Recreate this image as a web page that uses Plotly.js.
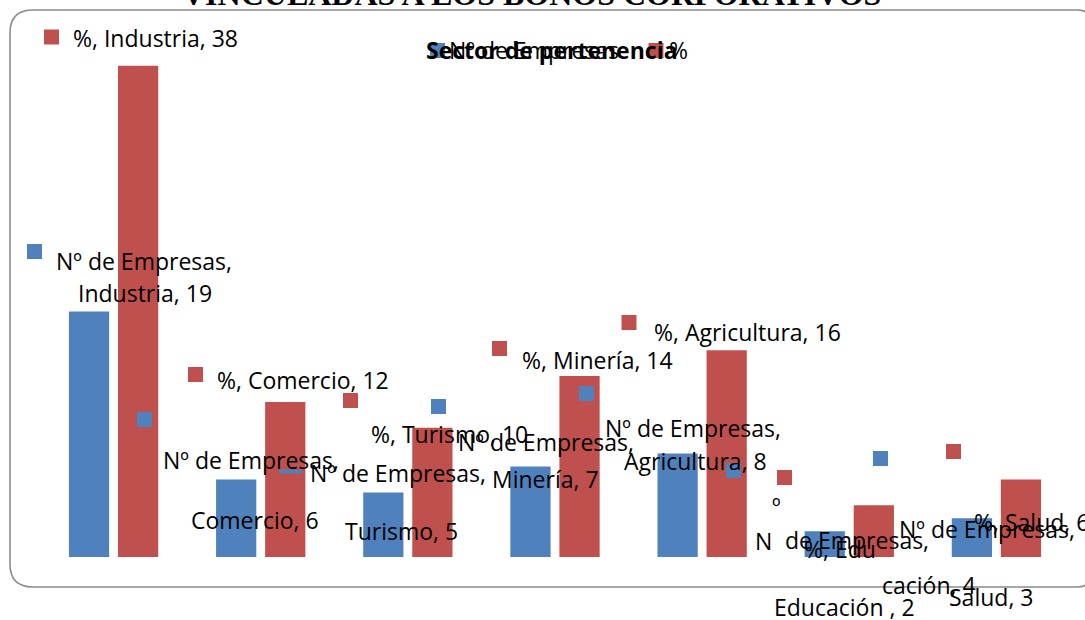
<!DOCTYPE html>
<html><head><meta charset="utf-8">
<script src="https://cdn.plot.ly/plotly-3.0.1.min.js"></script>
<style>html,body{margin:0;padding:0;background:#fff;overflow:hidden}#chart{width:1085px;height:620px}</style>
</head><body><div id="chart"></div>
<script>
// ---- data ----
const categories = ['Industria', 'Comercio', 'Turismo', 'Minería', 'Agricultura', 'Educación', 'Salud'];
const empresas = [19, 6, 5, 7, 8, 2, 3];
const porcentaje = [38, 12, 10, 14, 16, 4, 6];
const seriesNames = ['Nº de Empresas', '%'];
const chartTitle = 'VINCULADAS A LOS BONOS CORPORATIVOS';
const legendTitle = 'Sector de pertenencia';

// ---- layout geometry ----
const W = 1085, H = 620, L = 40, R = 15, T = 40, B = 63;
const pw = W - L - R, ph = H - T - B;
const px = v => (v - L) / pw;
const py = v => (H - B - v) / ph;
const BLUE = '#4F81BD', RED = '#C0504D';
const FONT = 'Open Sans, sans-serif';
const FS = 23;

const traces = [
  {type: 'bar', name: seriesNames[0], x: categories, y: empresas, marker: {color: BLUE}, hoverinfo: 'x+y'},
  {type: 'bar', name: seriesNames[1], x: categories, y: porcentaje, marker: {color: RED}, hoverinfo: 'x+y'}
];

const lblE = i => seriesNames[0] + ',';
const lblEv = i => categories[i] + ', ' + empresas[i];
const lblP = i => seriesNames[1] + ', ' + categories[i] + ', ' + porcentaje[i];

// data-label texts with pixel placement [text, cx, cy, anchor]
const labels = [
  [lblP(0), 155, 38],
  [lblE(0), 143.5, 261], [lblEv(0), 144.5, 293],
  [lblP(1), 302.5, 379.5],
  [lblE(1), 250.5, 459.5], [lblEv(1), 255, 520],
  [lblP(2), 449.5, 434],
  [lblE(2), 397.5, 473], [lblEv(2), 401, 530.5],
  [lblE(3), 546, 441.5], [lblEv(3), 545.5, 478.5],
  [lblP(3), 597.5, 359.5],
  [lblP(4), 747.5, 331.5],
  [lblE(4), 693, 428], [lblEv(4), 695.5, 461],
  ['º', 776.5, 506], ['N', 763, 541], ['de Empresas,', 856.5, 540],
  [seriesNames[1] + ', Edu', 839.5, 548.5], ['cación, ' + porcentaje[5], 929, 585],
  [categories[5] + ' , ' + empresas[5], 844, 607],
  [lblE(6), 986.5, 529],
  [lblP(6), 972, 521.5, 'left'],
  [lblEv(6), 990.5, 597]
];

// legend-key squares next to data labels [color, cx, cy, w, h]
const keys = [
  [RED, 51.5, 37], [BLUE, 34.5, 251.5], [RED, 195.5, 374.5], [BLUE, 144.5, 419.5],
  [RED, 350.5, 400.5], [BLUE, 290.5, 471.5, 23, 4], [BLUE, 438.5, 406.5], [RED, 499.5, 348.5],
  [BLUE, 586.5, 393.5], [RED, 629, 322.5], [BLUE, 733.5, 470.5], [RED, 784.5, 477.5],
  [BLUE, 880.5, 458.5], [RED, 953.5, 451.5]
];

const annotations = labels.map(([t, cx, cy, anc]) => ({
  text: t, xref: 'paper', yref: 'paper', x: px(cx), y: py(cy),
  xanchor: anc || 'center', yanchor: 'middle', showarrow: false,
  font: {family: FONT, size: FS, color: '#000'}
}));

// legend (manual)
annotations.push({text: legendTitle, xref: 'paper', yref: 'paper', x: px(551.5), y: py(50),
  xanchor: 'center', yanchor: 'middle', showarrow: false, font: {family: FONT, size: 23, color: '#000', weight: 'bold'}});
annotations.push({text: seriesNames[0], xref: 'paper', yref: 'paper', x: px(447), y: py(50),
  xanchor: 'left', yanchor: 'middle', showarrow: false, font: {family: FONT, size: FS, color: '#000'}});
annotations.push({text: seriesNames[1], xref: 'paper', yref: 'paper', x: px(667), y: py(50),
  xanchor: 'left', yanchor: 'middle', showarrow: false, font: {family: FONT, size: FS, color: '#000'}});
// title (clipped at top)
annotations.push({text: chartTitle, xref: 'paper', yref: 'paper', x: px(531), y: py(-6),
  xanchor: 'center', yanchor: 'middle', showarrow: false,
  font: {family: 'Liberation Serif, Times New Roman, serif', size: 32, color: '#000', weight: 'bold'}});

const shapes = [];
// rounded border
(function () {
  const x0 = 10, y0 = 10, x1 = 1092, y1 = 587, rl = 23, rr = 15;
  const P = (a, b) => px(a) + ',' + py(b);
  const path = 'M' + P(x0 + rl, y0) + ' L' + P(x1 - rr, y0) + ' Q' + P(x1, y0) + ' ' + P(x1, y0 + rr) +
    ' L' + P(x1, y1 - rr) + ' Q' + P(x1, y1) + ' ' + P(x1 - rr, y1) +
    ' L' + P(x0 + rl, y1) + ' Q' + P(x0, y1) + ' ' + P(x0, y1 - rl) +
    ' L' + P(x0, y0 + rl) + ' Q' + P(x0, y0) + ' ' + P(x0 + rl, y0) + ' Z';
  shapes.push({type: 'path', xref: 'paper', yref: 'paper', path: path, layer: 'below',
    line: {color: '#8c8c8c', width: 1.6}, fillcolor: 'rgba(0,0,0,0)'});
})();
function sq(color, cx, cy, w, h) {
  w = w || 15; h = h || 15;
  shapes.push({type: 'rect', xref: 'paper', yref: 'paper', layer: 'above',
    x0: px(cx - w / 2), x1: px(cx + w / 2), y0: py(cy + h / 2), y1: py(cy - h / 2),
    line: {width: 0}, fillcolor: color});
}
keys.forEach(k => sq(k[0], k[1], k[2], k[3], k[4]));
sq(BLUE, 437.5, 50.5); sq(RED, 656, 50.5);

const layout = {
  width: W, height: H,
  margin: {l: L, r: R, t: T, b: B, pad: 0},
  paper_bgcolor: '#fff', plot_bgcolor: 'rgba(0,0,0,0)',
  barmode: 'group', bargap: 0.333, bargroupgap: 0.18,
  showlegend: false,
  xaxis: {visible: false, range: [-0.5, 6.5], fixedrange: true},
  yaxis: {visible: false, range: [0, 40], fixedrange: true},
  annotations: annotations, shapes: shapes
};
Plotly.newPlot('chart', traces, layout, {displayModeBar: false, staticPlot: true});
</script>
</body></html>
